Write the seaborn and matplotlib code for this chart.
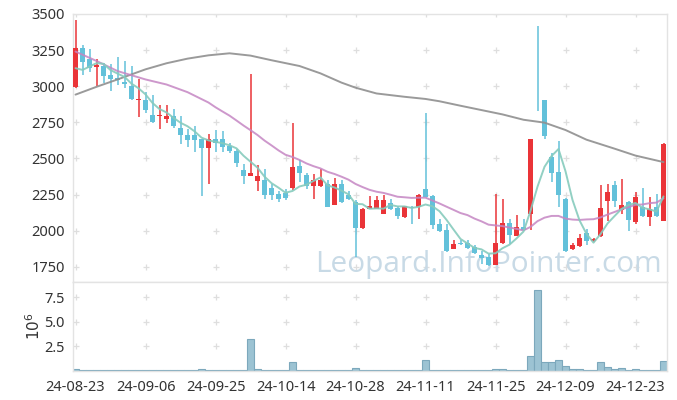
import numpy as np
import pandas as pd
import matplotlib
matplotlib.use("Agg")
import matplotlib.pyplot as plt
import seaborn as sns

# ---------------- data ----------------
opens = [2996, 3263, 3186, 3133, 3140, 3075, 3054, 3028, 3005, 2903,
         2908, 2803, 2797, 2773, 2796, 2708, 2664, 2664, 2633, 2575,
         2633, 2633, 2589, 2555, 2418, 2379, 2345, 2349, 2294, 2252,
         2261, 2296, 2446, 2384, 2310, 2310, 2326, 2181, 2326, 2250,
         2199, 2019, 2150, 2150, 2118, 2192, 2157, 2095, 2164, 2164,
         2292, 2238, 2044, 2002, 1873, 1915, 1917, 1887, 1835, 1817,
         1764, 1914, 2056, 1965, 2028, 2116, 2900, 2903, 2509, 2403,
         2220, 1873, 1891, 1986, 1926, 1961, 2208, 2319, 2146, 2201,
         2058, 2167, 2093, 2167, 2069]
highs = [3460, 3284, 3261, 3186, 3163, 3151, 3205, 3172, 3140, 3052,
         2959, 2942, 2870, 2870, 2843, 2796, 2703, 2726, 2635, 2671,
         2699, 2692, 2606, 2564, 2460, 3088, 2453, 2430, 2326, 2275,
         2291, 2748, 2492, 2400, 2395, 2430, 2349, 2365, 2349, 2273,
         2210, 2160, 2238, 2238, 2245, 2222, 2169, 2174, 2169, 2252,
         2812, 2245, 2083, 2044, 1933, 1933, 1933, 1898, 1863, 1840,
         2252, 2222, 2083, 2111, 2081, 2636, 3417, 2905, 2537, 2620,
         2225, 1912, 1977, 2012, 1949, 2319, 2324, 2347, 2359, 2205,
         2266, 2294, 2231, 2254, 2609]
lows = [2990, 3075, 3098, 3005, 3024, 2966, 3012, 2989, 2907, 2787,
        2815, 2748, 2703, 2745, 2710, 2601, 2582, 2548, 2238, 2322,
        2548, 2548, 2536, 2443, 2326, 2376, 2273, 2222, 2211, 2199,
        2211, 2280, 2338, 2291, 2222, 2303, 2164, 2176, 2192, 2215,
        1818, 2015, 2148, 2150, 2115, 2141, 2083, 2090, 2049, 2083,
        2230, 2014, 1991, 1852, 1873, 1898, 1875, 1840, 1771, 1759,
        1760, 1910, 1910, 1962, 1995, 2005, 2829, 2632, 2336, 2162,
        1855, 1866, 1884, 1903, 1919, 1954, 2069, 2162, 2116, 1995,
        2046, 2093, 2035, 2093, 2065]
closes = [3263, 3168, 3128, 3147, 3070, 3047, 3046, 3014, 2912, 2912,
          2833, 2750, 2803, 2796, 2726, 2661, 2629, 2629, 2575, 2633,
          2610, 2582, 2555, 2471, 2377, 2402, 2377, 2245, 2245, 2220,
          2227, 2439, 2400, 2308, 2349, 2349, 2164, 2326, 2199, 2220,
          2019, 2153, 2169, 2211, 2211, 2150, 2100, 2169, 2160, 2245,
          2234, 2037, 1998, 1863, 1910, 1907, 1880, 1845, 1812, 1764,
          1917, 2056, 1968, 2028, 2002, 2632, 2895, 2655, 2398, 2248,
          1861, 1903, 1949, 1931, 1942, 2157, 2271, 2204, 2180, 2074,
          2231, 2104, 2150, 2104, 2597]
volume_m = [0.17, 0.02, 0.02, 0.02, 0.02, 0.02, 0.02, 0.02, 0.02, 0.07,
            0.02, 0.02, 0.02, 0.02, 0.02, 0.02, 0.02, 0.02, 0.17, 0.07,
            0.02, 0.02, 0.02, 0.02, 0.02, 3.25, 0.17, 0.07, 0.02, 0.02,
            0.02, 0.89, 0.07, 0.07, 0.02, 0.02, 0.07, 0.02, 0.02, 0.02,
            0.24, 0.02, 0.02, 0.02, 0.02, 0.02, 0.02, 0.02, 0.02, 0.02,
            1.10, 0.07, 0.02, 0.07, 0.02, 0.02, 0.02, 0.02, 0.02, 0.02,
            0.17, 0.17, 0.07, 0.02, 0.02, 1.50, 8.27, 0.89, 0.89, 1.10,
            0.48, 0.17, 0.17, 0.07, 0.07, 0.89, 0.38, 0.17, 0.27, 0.07,
            0.17, 0.07, 0.07, 0.07, 0.99]

# moving-average values before enough in-window history exists
ma5_head = [3125, 3113, 3136, 3160]
ma20_head_idx = [0, 3, 6, 10, 13, 16]
ma20_head = [3240, 3175, 3105, 3047, 3012, 2959]
ma60_idx = [0, 3, 6, 10, 13, 16, 19, 22, 25, 28, 32, 35, 38, 40, 43, 47,
            50, 52, 55, 58, 61, 64, 67, 70, 73, 77, 80, 84]
ma60_vals = [2942, 2996, 3047, 3117, 3159, 3191, 3214, 3228, 3212, 3180,
             3140, 3089, 3025, 2990, 2950, 2927, 2912, 2896, 2865, 2835,
             2805, 2768, 2748, 2697, 2630, 2568, 2520, 2475]

tick_idx = [0, 10, 20, 30, 40, 50, 60, 70, 80]
tick_labels = ["24-08-23", "24-09-06", "24-09-25", "24-10-14", "24-10-28",
               "24-11-11", "24-11-25", "24-12-09", "24-12-23"]
price_ticks = [1750, 2000, 2250, 2500, 2750, 3000, 3250, 3500]
vol_ticks = [2.5, 5.0, 7.5]

# ---------------- derived frames ----------------
n = len(closes)
idx = np.arange(n)
df = pd.DataFrame({"i": idx, "open": opens, "high": highs, "low": lows,
                   "close": closes, "vol": volume_m})
ma5 = df["close"].rolling(5).mean()
ma5.iloc[:4] = ma5_head
ma5_df = pd.DataFrame({"i": idx, "v": ma5})
ma20_roll = df["close"].rolling(20).mean()
ma20_df = pd.DataFrame({"i": ma20_head_idx + list(idx[19:]),
                        "v": ma20_head + list(ma20_roll.iloc[19:])})
ma60_df = pd.DataFrame({"i": ma60_idx, "v": ma60_vals})

UP = "#ea3438"
DOWN = "#63c1da"
GRIDC = "#dedede"
SPINEC = "#e3e3e3"

sns.set_theme(style="white")
plt.rcParams["font.family"] = ["Noto Sans", "DejaVu Sans"]

fig = plt.figure(figsize=(6.77, 4.0), dpi=100)
ax = fig.add_axes([73 / 677, 1 - 282 / 400, 594 / 677, 268 / 400])
axv = fig.add_axes([73 / 677, 1 - 370.5 / 400, 594 / 677, 88.5 / 400], sharex=ax)

# grid crosses
gx, gy = np.meshgrid(tick_idx, price_ticks)
ax.scatter(gx.ravel(), gy.ravel(), marker="+", s=22, color=GRIDC, linewidths=0.9, zorder=0)
gx2, gy2 = np.meshgrid(tick_idx, vol_ticks)
axv.scatter(gx2.ravel(), gy2.ravel(), marker="+", s=22, color=GRIDC, linewidths=0.9, zorder=0)

# watermark
ax.text(0.70, 0.065, "Leopard.InfoPointer.com", transform=ax.transAxes,
        ha="center", va="center", fontsize=21.5, color="#c8dae6",
        family=["Open Sans", "DejaVu Sans"], zorder=1)

# candles
o = df["open"].values
c = df["close"].values
cols = [UP if cc > oo else DOWN for oo, cc in zip(o, c)]
bottoms = np.minimum(o, c)
heights = np.maximum(np.abs(c - o), 5)
ax.vlines(idx, df["low"], df["high"], colors=cols, linewidth=1.1, zorder=2)
ax.bar(idx, heights, bottom=bottoms, width=0.68, color=cols, linewidth=0, zorder=3)

# moving averages
sns.lineplot(data=ma60_df, x="i", y="v", ax=ax, color="#8f8f8f", linewidth=1.4, alpha=0.9, zorder=4)
sns.lineplot(data=ma20_df, x="i", y="v", ax=ax, color="#c586c3", linewidth=1.4, alpha=0.85, zorder=4)
sns.lineplot(data=ma5_df, x="i", y="v", ax=ax, color="#86cbbd", linewidth=1.4, alpha=0.9, zorder=4)

# volume
sns.barplot(data=df, x="i", y="vol", ax=axv, native_scale=True, width=1.0,
            color="#9cc3d3", saturation=1, edgecolor="#7ca8bc", linewidth=0.8,
            errorbar=None, zorder=2)

for a in (ax, axv):
    for s in a.spines.values():
        s.set_color(SPINEC)
        s.set_linewidth(1.0)
    a.set_xlabel("")
    a.set_ylabel("")
    a.tick_params(axis="y", length=0, pad=6, labelsize=10.5, labelcolor="#333333")
    a.tick_params(axis="x", length=5, direction="inout", color=GRIDC, width=0.9,
                  labelsize=10.5, labelcolor="#333333", pad=4)

ax.set_xlim(-0.36, 84.5)
ax.set_ylim(1645, 3500)
ax.set_yticks(price_ticks)
ax.set_yticklabels([str(v) for v in price_ticks])
ax.set_xticks(tick_idx)
ax.tick_params(axis="x", labelbottom=False)

axv.set_ylim(0, 9.05)
axv.set_yticks(vol_ticks)
axv.set_yticklabels(["2.5", "5.0", "7.5"])
axv.set_xticks(tick_idx)
axv.set_xticklabels(tick_labels)
axv.set_xlim(-0.36, 84.5)
axv.set_ylabel(r"$10^6$", fontsize=11, color="#333333", labelpad=0)

fig.savefig("out.png", dpi=100)
